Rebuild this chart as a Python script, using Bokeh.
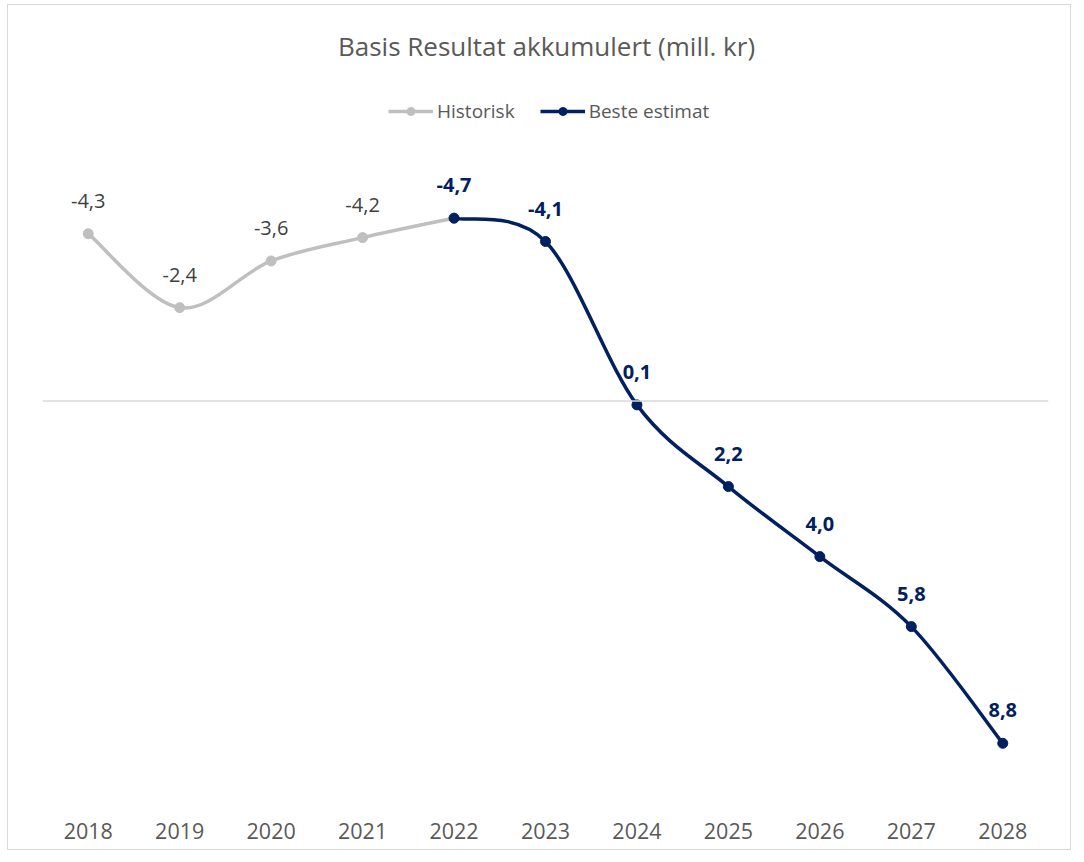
from bokeh.plotting import figure
from bokeh.models import Range1d, Span, Legend, LegendItem, Label, FixedTicker
from bokeh.core.properties import value
from bokeh.embed import file_html
from bokeh.resources import INLINE

# ---- data ----
years_hist = [2018, 2019, 2020, 2021, 2022]
vals_hist = [-4.3, -2.4, -3.6, -4.2, -4.7]
years_est = [2022, 2023, 2024, 2025, 2026, 2027, 2028]
vals_est = [-4.7, -4.1, 0.1, 2.2, 4.0, 5.8, 8.8]
tick_years = [2018, 2019, 2020, 2021, 2022, 2023, 2024, 2025, 2026, 2027, 2028]
title_text = "Basis Resultat akkumulert (mill. kr)"
legend_labels = ["Historisk", "Beste estimat"]

GRAY = "#BFBFBF"
NAVY = "#002060"
TXT = "#595959"
FONT = "Open Sans"


def smooth_segments(xs, ys):
    n = len(xs)
    out = dict(x0=[], y0=[], x1=[], y1=[], cx0=[], cy0=[], cx1=[], cy1=[])
    for i in range(n - 1):
        a = i - 1 if i > 0 else i
        d = i + 2 if i + 2 < n else i + 1
        out["x0"].append(xs[i]); out["y0"].append(ys[i])
        out["x1"].append(xs[i + 1]); out["y1"].append(ys[i + 1])
        out["cx0"].append(xs[i] + (xs[i + 1] - xs[a]) / 6)
        out["cy0"].append(ys[i] + (ys[i + 1] - ys[a]) / 6)
        out["cx1"].append(xs[i + 1] - (xs[d] - xs[i]) / 6)
        out["cy1"].append(ys[i + 1] - (ys[d] - ys[i]) / 6)
    return out


def fmt(v):
    return f"{v:.1f}".replace(".", ",")


p = figure(width=1064, height=846, output_backend="svg", toolbar_location=None,
           x_range=Range1d(2017.5, 2028.5), y_range=Range1d(10.45, -10.167),
           min_border_left=34, min_border_right=24, min_border_top=0,
           min_border_bottom=44)
p.title.visible = False
p.styles = {"border": "1px solid #d9d9d9", "margin-left": "7px", "margin-top": "4px"}
p.outline_line_color = None
p.xgrid.visible = False
p.ygrid.visible = False
p.yaxis.visible = False
p.xaxis.ticker = FixedTicker(ticks=tick_years)
p.xaxis.axis_line_color = None
p.xaxis.major_tick_line_color = None
p.xaxis.minor_tick_line_color = None
p.xaxis.major_label_text_font = FONT
p.xaxis.major_label_text_font_size = "21.5px"
p.xaxis.major_label_text_color = TXT
p.xaxis.major_label_standoff = 9

p.add_layout(Span(location=0, dimension="width", line_color="#D9D9D9", line_width=1.5))

# historic
hs = smooth_segments(years_hist, vals_hist)
bh = p.bezier(line_color=GRAY, line_width=3.5, **hs)
sh = p.scatter(years_hist, vals_hist, size=10, color=GRAY)
p.text(years_hist[:-1], vals_hist[:-1], text=[fmt(v) for v in vals_hist[:-1]],
       text_align="center", text_baseline="middle", y_offset=-33,
       text_font=value(FONT), text_font_size="20px", text_color="#404040")

# estimate
es = smooth_segments(years_est, vals_est)
be = p.bezier(line_color=NAVY, line_width=3.5, **es)
se = p.scatter(years_est, vals_est, size=10, color=NAVY)
p.text(years_est, vals_est, text=[fmt(v) for v in vals_est],
       text_align="center", text_baseline="middle", y_offset=-33,
       text_font=value(FONT), text_font_size="20px", text_color=NAVY,
       text_font_style="bold")

# legend
legend = Legend(items=[LegendItem(label=legend_labels[0], renderers=[bh, sh]),
                       LegendItem(label=legend_labels[1], renderers=[be, se])],
                orientation="horizontal", location=(346, 683),
                glyph_width=45, glyph_height=20, label_height=20,
                label_standoff=4, spacing=25, padding=0, margin=0,
                border_line_color=None, background_fill_alpha=0,
                label_text_font=FONT, label_text_font_size="19px",
                label_text_color=TXT)
p.add_layout(legend)

p.add_layout(Label(x=504, y=762, x_units="screen", y_units="screen", text=title_text,
                   text_align="center", text_baseline="middle",
                   text_font=FONT, text_font_size="26px", text_color=TXT))

open("out.html", "w").write(file_html(p, INLINE))
